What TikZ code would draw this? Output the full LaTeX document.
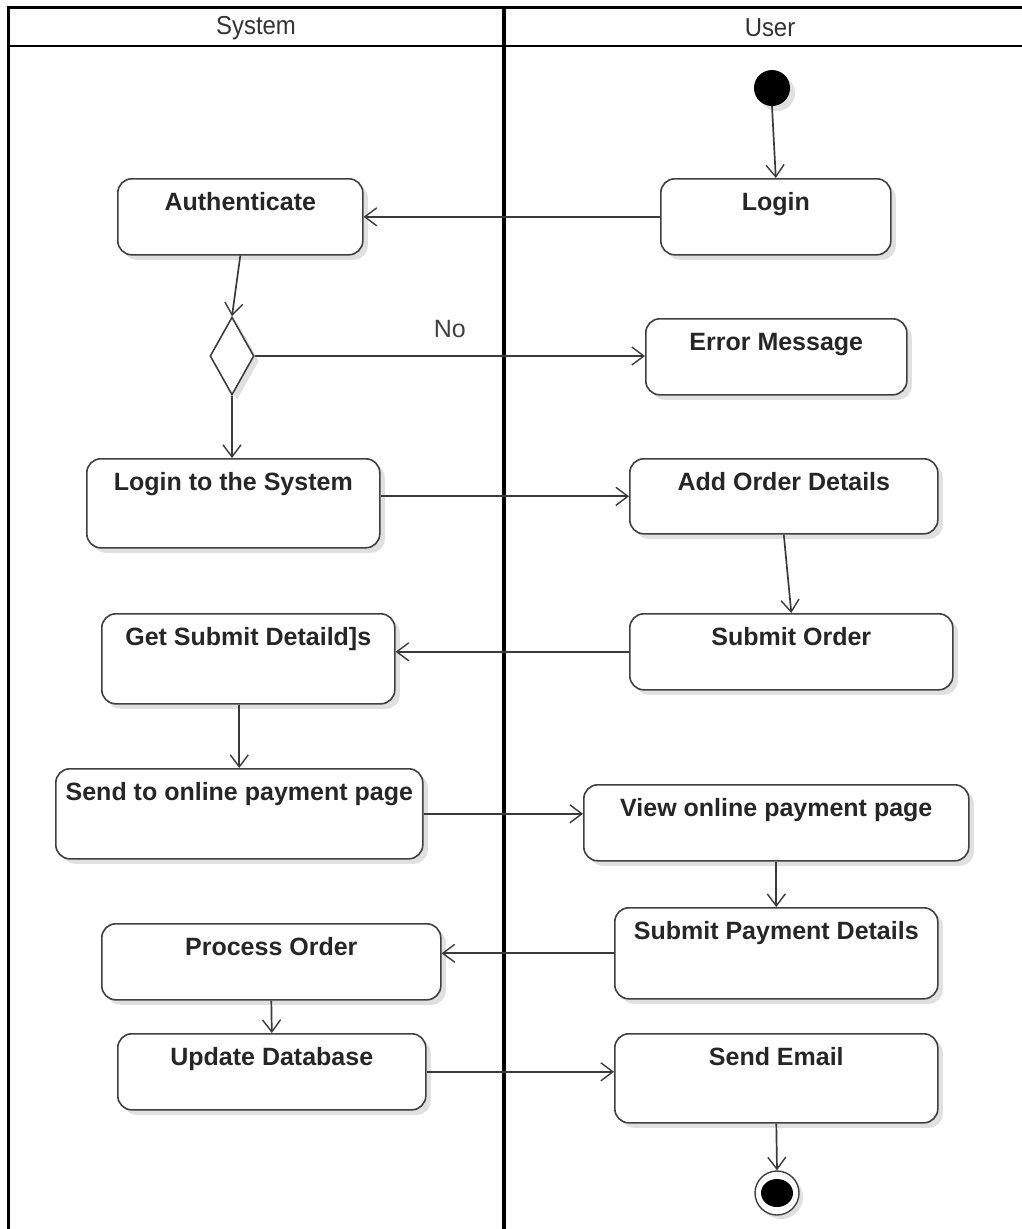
\documentclass[tikz,border=0pt]{standalone}
\usepackage{fontspec}
\setmainfont{Liberation Sans}
\newfontfamily\hdrfont[FakeStretch=0.92]{Liberation Sans}
\usetikzlibrary{arrows.meta,shapes.geometric,shadows}
\definecolor{edgegray}{HTML}{3A3A3A}
\definecolor{boxgray}{HTML}{404040}
\begin{document}
\begin{tikzpicture}[x=1pt,y=-1pt,
  act/.style={draw=boxgray, line width=1.6pt, rounded corners=14pt, fill=white,
    anchor=north west, text height=32pt, text depth=#1, inner ysep=0pt,
    font=\fontsize{25}{28}\selectfont\bfseries, text=black!85,
    drop shadow={shadow xshift=5pt, shadow yshift=-5pt, fill=black, opacity=0.12}},
  flow/.style={draw=edgegray, line width=1.7pt, -{Straight Barb[length=12pt,width=18pt,line width=1.4pt]}},
  hdr/.style={font=\hdrfont\fontsize{26}{29}\selectfont, text=black!80},
  lane/.style={line width=3pt, draw=black}
]
\useasboundingbox (0,0) rectangle (1022,1229);
% swimlane frame
\draw[lane] (8,1240) -- (8,7) -- (1030,7);
\draw[line width=2pt] (8,46) -- (1030,46);
\draw[line width=4pt] (504,7) -- (504,1240);
\node[hdr] (hsys) at (256,28) {System};
\node[hdr] (husr) at (770,28) {User};

% start
\node[circle, fill=black, minimum size=36pt, inner sep=0pt,
  drop shadow={shadow xshift=5pt, shadow yshift=-5pt, fill=black, opacity=0.12}] (start) at (772,88) {};

% activities
\node[act=44pt, minimum width=230pt] (login) at (660,178) {Login};
\node[act=44pt, minimum width=245pt] (auth) at (117,178) {Authenticate};
\node[diamond, draw=boxgray, line width=1.6pt, fill=white, minimum width=44pt, minimum height=78pt, inner sep=0pt,
  drop shadow={shadow xshift=5pt, shadow yshift=-5pt, fill=black, opacity=0.12}] (dec) at (232,356) {};
\node[act=44pt, minimum width=261pt] (err) at (645,318) {Error Message};
\node[act=57pt, minimum width=293pt] (lts) at (86,458) {Login to the System};
\node[act=43pt, minimum width=308pt] (aod) at (629,458) {Add Order Details};
\node[act=58pt, minimum width=293pt] (gsd) at (101,613) {Get Submit Detaild]s};
\node[act=44pt, minimum width=323pt] (so) at (629,613) {Submit Order};
\node[act=58pt, minimum width=367pt] (send) at (55,768) {Send to online payment page};
\node[act=44pt, minimum width=385pt] (view) at (583,784) {View online payment page};
\node[act=59pt, minimum width=323pt] (spd) at (614,907) {Submit Payment Details};
\node[act=44pt, minimum width=339pt] (po) at (101,923) {Process Order};
\node[act=44pt, minimum width=308pt] (udb) at (117,1033) {Update Database};
\node[act=57pt, minimum width=323pt] (se) at (614,1033) {Send Email};

% end
\node[circle, draw=boxgray, line width=1.4pt, fill=white, minimum width=44pt, inner sep=0pt,
  drop shadow={shadow xshift=4pt, shadow yshift=-4pt, fill=black, opacity=0.12}] (end) at (777,1193) {};
\fill[black] (end.center) ellipse [x radius=16pt, y radius=14pt];

% connectors
\draw[flow] (start.south) -- (login.north);
\draw[flow] (login.west) -- (login.west -| auth.east);
\draw[flow] (auth.south) -- (dec.north);
\draw[flow] (dec.east) -- node[above=14pt, pos=0.5, font=\fontsize{25}{28}\selectfont, text=black!75] (nolbl) {No} (dec.east -| err.west);
\draw[flow] (dec.south) -- (dec.south |- lts.north);
\draw[flow] (lts.east |- aod.west) -- (aod.west);
\draw[flow] (aod.south) -- (so.north);
\draw[flow] (so.west) -- (so.west -| gsd.east);
\draw[flow] (send.north |- gsd.south) -- (send.north);
\draw[flow] (send.east) -- (send.east -| view.west);
\draw[flow] (view.south) -- (spd.north);
\draw[flow] (spd.west) -- (spd.west -| po.east);
\draw[flow] (po.south) -- (udb.north);
\draw[flow] (udb.east) -- (udb.east -| se.west);
\draw[flow] (se.south) -- (end.north);
\end{tikzpicture}
\end{document}
